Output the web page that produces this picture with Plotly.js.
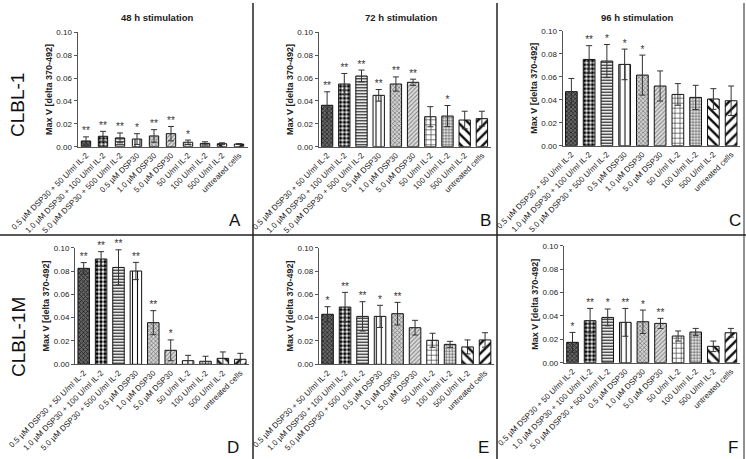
<!DOCTYPE html>
<html>
<head>
<meta charset="utf-8">
<script src="https://cdn.plot.ly/plotly-3.0.1.min.js"></script>
<style>html,body{margin:0;padding:0;background:#fff;}#chart{width:746px;height:459px;}</style>
</head>
<body>
<div id="chart"></div>
<script>
// Categories (tick labels)
const categories = [
  "0.5 µM DSP30 + 50 U/ml IL-2",
  "1.0 µM DSP30 + 100 U/ml IL-2",
  "5.0 µM DSP30 + 500 U/ml IL-2",
  "0.5 µM DSP30",
  "1.0 µM DSP30",
  "5.0 µM DSP30",
  "50 U/ml IL-2",
  "100 U/ml IL-2",
  "500 U/ml IL-2",
  "untreated cells"
];

// CLBL-1, 48 h
const valA = [0.0050, 0.0091, 0.0077, 0.0067, 0.0094, 0.0114, 0.0039, 0.0029, 0.0026, 0.0023];
const errA = [0.0036, 0.0043, 0.0043, 0.0047, 0.0055, 0.0063, 0.0019, 0.0014, 0.0008, 0.0004];
const sigA = ["**", "**", "**", "*", "**", "**", "*", "", "", ""];
// CLBL-1, 72 h
const valB = [0.0362, 0.0548, 0.0618, 0.0449, 0.0548, 0.0563, 0.0262, 0.0268, 0.0233, 0.0245];
const errB = [0.0118, 0.0092, 0.0052, 0.0051, 0.0062, 0.0027, 0.0088, 0.0092, 0.0077, 0.0065];
const sigB = ["**", "**", "**", "**", "**", "**", "", "*", "", ""];
// CLBL-1, 96 h
const valC = [0.0470, 0.0750, 0.0736, 0.0707, 0.0614, 0.0519, 0.0446, 0.0420, 0.0406, 0.0391];
const errC = [0.0115, 0.0120, 0.0144, 0.0133, 0.0174, 0.0131, 0.0094, 0.0105, 0.0090, 0.0128];
const sigC = ["", "**", "*", "*", "*", "", "", "", "", ""];
// CLBL-1M, 48 h
const valD = [0.0823, 0.0903, 0.0831, 0.0800, 0.0357, 0.0120, 0.0031, 0.0026, 0.0051, 0.0043];
const errD = [0.0049, 0.0063, 0.0151, 0.0074, 0.0103, 0.0089, 0.0046, 0.0043, 0.0055, 0.0051];
const sigD = ["**", "**", "**", "**", "**", "*", "", "", "", ""];
// CLBL-1M, 72 h
const valE = [0.0429, 0.0491, 0.0411, 0.0411, 0.0434, 0.0314, 0.0206, 0.0171, 0.0149, 0.0209];
const errE = [0.0065, 0.0126, 0.0126, 0.0095, 0.0097, 0.0063, 0.0060, 0.0026, 0.0060, 0.0062];
const sigE = ["*", "**", "**", "*", "**", "", "", "", "", ""];
// CLBL-1M, 96 h
const valF = [0.0174, 0.0359, 0.0387, 0.0345, 0.0350, 0.0336, 0.0228, 0.0262, 0.0140, 0.0256];
const errF = [0.0085, 0.0105, 0.0072, 0.0119, 0.0100, 0.0043, 0.0043, 0.0031, 0.0045, 0.0037];
const sigF = ["*", "**", "*", "**", "*", "**", "", "", "", ""];

const panelTitles = ["48 h stimulation", "72 h stimulation", "96 h stimulation"];
const rowLabels = ["CLBL-1", "CLBL-1M"];
const panelLetters = ["A", "B", "C", "D", "E", "F"];
const yTitle = "Max V [delta 370-492]";

// Styling per category (patterns)
const patterns = [
  {shape: "x", fg: "#1a1a1a", bg: "#666", size: 3, sol: 0.4},
  {shape: ".", fg: "#000", bg: "#fff", size: 4, sol: 0.6},
  {shape: "-", fg: "#111", bg: "#e8e8e8", size: 3, sol: 0.35},
  {shape: "|", fg: "#111", bg: "#fff", size: 5, sol: 0.22},
  {shape: "x", fg: "#666", bg: "#d0d0d0", size: 3, sol: 0.35},
  {shape: "/", fg: "#888", bg: "#dcdcdc", size: 3, sol: 0.35},
  {shape: "+", fg: "#222", bg: "#fff", size: 5, sol: 0.22},
  {shape: "+", fg: "#444", bg: "#e0e0e0", size: 3, sol: 0.3},
  {shape: "\\", fg: "#111", bg: "#fff", size: 7, sol: 0.35},
  {shape: "/", fg: "#111", bg: "#fff", size: 7, sol: 0.35}
];

const FONT = 'Arial, "Liberation Sans", sans-serif';
const W = 746, H = 459;
const panels = [
  {vals: valA, errs: errA, sig: sigA, x: [77.5, 247.5], y: [32.3, 146.7], bw: 0.55},
  {vals: valB, errs: errB, sig: sigB, x: [318.5, 490.5], y: [32.3, 146.7], bw: 0.66},
  {vals: valC, errs: errC, sig: sigC, x: [562.5, 740], y: [30.7, 145.7], bw: 0.66},
  {vals: valD, errs: errD, sig: sigD, x: [75, 249], y: [247.7, 364.3], bw: 0.66},
  {vals: valE, errs: errE, sig: sigE, x: [318.8, 493.8], y: [247.7, 364.3], bw: 0.66},
  {vals: valF, errs: errF, sig: sigF, x: [563.7, 739.7], y: [245.7, 362.7], bw: 0.66}
];

const data = [];
const layout = {
  width: W, height: H,
  margin: {l: 0, r: 0, t: 0, b: 0},
  paper_bgcolor: "#fff", plot_bgcolor: "#fff",
  showlegend: false, barmode: "overlay",
  font: {family: FONT, color: "#222"},
  annotations: [],
  shapes: []
};

panels.forEach((p, i) => {
  const n = i + 1;
  const xa = "x" + (n === 1 ? "" : n), ya = "y" + (n === 1 ? "" : n);
  categories.forEach((c, k) => {
    const q = patterns[k];
    data.push({
      type: "bar", x: [c], y: [p.vals[k]], xaxis: xa, yaxis: ya,
      width: p.bw, opacity: 1,
      marker: {
        color: q.bg,
        line: {color: "#111", width: 1},
        pattern: {shape: q.shape, fgcolor: q.fg, bgcolor: q.bg, size: q.size, solidity: q.sol, fillmode: "replace"}
      },
      error_y: {type: "data", array: [p.errs[k]], visible: true, color: "#333", thickness: 1, width: 3},
      hoverinfo: "skip"
    });
  });
  // significance stars
  data.push({
    type: "scatter", mode: "text", xaxis: xa, yaxis: ya,
    x: categories, y: p.vals.map((v, k) => v + p.errs[k]),
    text: p.sig, textposition: "top center",
    textfont: {size: 10, color: "#333", family: FONT},
    cliponaxis: false, hoverinfo: "skip"
  });
  const xKey = "xaxis" + (n === 1 ? "" : n), yKey = "yaxis" + (n === 1 ? "" : n);
  layout[xKey] = {
    domain: [p.x[0] / W, p.x[1] / W], anchor: ya, type: "category",
    categoryorder: "array", categoryarray: categories,
    range: [-0.5, 9.5], tickangle: -45, showline: true, linecolor: "#555", linewidth: 1,
    ticks: "", tickfont: {size: 8, color: "#222"}, fixedrange: true, showgrid: false, zeroline: false
  };
  layout[yKey] = {
    domain: [1 - p.y[1] / H, 1 - p.y[0] / H], anchor: xa,
    range: [0, 0.1], dtick: 0.02, tickformat: ".2f", showline: true, linecolor: "#555", linewidth: 1,
    ticks: "outside", ticklen: 3, tickcolor: "#555", tickfont: {size: 8, color: "#222"},
    showgrid: false, zeroline: false,
    title: {text: "<b>" + yTitle + "</b>", font: {size: 9, color: "#222"}, standoff: 2}
  };
  // panel letter
  const lx = [235, 485, 735, 233, 483, 733][i], ly = [220, 220, 220, 447, 447, 447][i];
  layout.annotations.push({xref: "paper", yref: "paper", x: lx / W, y: 1 - ly / H, text: panelLetters[i],
    showarrow: false, font: {size: 17, color: "#111"}, xanchor: "center", yanchor: "middle"});
});

// panel titles
[157, 401, 637].forEach((cx, j) => {
  layout.annotations.push({xref: "paper", yref: "paper", x: cx / W, y: 1 - 18 / H, text: "<b>" + panelTitles[j] + "</b>",
    showarrow: false, font: {size: 9.5, color: "#222"}, xanchor: "center", yanchor: "middle"});
});
// row labels
[105, 337].forEach((cy, j) => {
  layout.annotations.push({xref: "paper", yref: "paper", x: 18 / W, y: 1 - cy / H, text: rowLabels[j],
    showarrow: false, textangle: -90, font: {size: 19, color: "#111"}, xanchor: "center", yanchor: "middle"});
});

// divider lines
layout.shapes.push({type: "line", xref: "paper", yref: "paper", x0: 253 / W, x1: 253 / W, y0: 0, y1: 1 - 3 / H, line: {color: "#222", width: 1.5}});
layout.shapes.push({type: "line", xref: "paper", yref: "paper", x0: 497 / W, x1: 497 / W, y0: 0, y1: 1 - 3 / H, line: {color: "#222", width: 1.5}});
layout.shapes.push({type: "line", xref: "paper", yref: "paper", x0: 0, x1: 1, y0: 1 - 235 / H, y1: 1 - 235 / H, line: {color: "#222", width: 1.5}});
layout.shapes.push({type: "line", xref: "paper", yref: "paper", x0: 744 / W, x1: 744 / W, y0: 0, y1: 1 - 3 / H, line: {color: "#222", width: 1}});

Plotly.newPlot("chart", data, layout, {displayModeBar: false, staticPlot: true});
</script>
</body>
</html>
